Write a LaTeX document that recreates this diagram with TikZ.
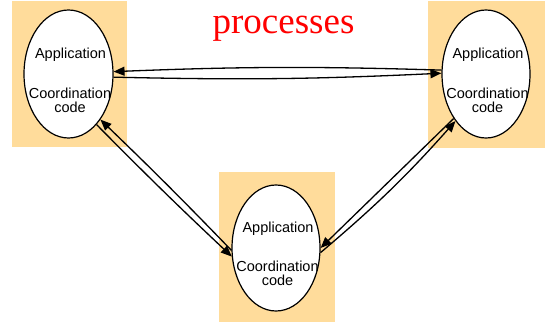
\documentclass[tikz,border=0pt]{standalone}
\usepackage{fontspec}
\setmainfont{Liberation Serif}
\setsansfont{Liberation Sans}
\usetikzlibrary{arrows.meta,shapes.geometric}
\definecolor{procbg}{RGB}{255,220,155}
\tikzset{
  procbox/.style={fill=procbg, draw=none, inner sep=0pt},
  proc/.style={ellipse, draw=black, fill=white, line width=1.2pt, inner sep=0pt},
  lbl/.style={font=\sffamily\fontsize{14.5}{14}\selectfont, inner sep=0pt, align=center},
  msg/.style={line width=1.3pt, -{Triangle[length=11pt,width=9pt]}},
}
\begin{document}
\begin{tikzpicture}[x=1pt,y=-1pt]
  \useasboundingbox (0,0) rectangle (548,324);

  % shaded frames behind the three processes
  \node[procbox, minimum width=115, minimum height=146] (fL) at (69.5,74) {};
  \node[procbox, minimum width=117, minimum height=147] (fR) at (486.5,74.5) {};
  \node[procbox, minimum width=116, minimum height=150] (fB) at (277,247) {};

  % the processes
  \node[proc, minimum width=89, minimum height=128] (L) at (68.5,74) {};
  \node[proc, minimum width=88, minimum height=128] (R) at (486,74) {};
  \node[proc, minimum width=88, minimum height=126] (B) at (276,248) {};

  \node[lbl] (La) at (70.5,55) {Application};
  \node[lbl] (Lc) at (70,100) {Coordination\\code};
  \node[lbl] (Ra) at (488,55) {Application};
  \node[lbl] (Rc) at (487.5,100) {Coordination\\code};
  \node[lbl] (Ba) at (278,229) {Application};
  \node[lbl] (Bc) at (277.5,273) {Coordination\\code};

  % title
  \node[text=red, font=\fontsize{37}{40}\selectfont, anchor=base, inner sep=0pt] (title) at (283.5,33) {processes};

  % message channels between processes
  \draw[msg] (R.175) to[bend right=2] (L.3);
  \draw[msg] (L.-4) to[bend right=2] (R.179);

  \draw[msg] (B.-177.5) to[bend right=1] (L.-55.6);
  \draw[msg] (L.-61) to[bend right=1] (B.-169);

  \draw[msg] (R.234.3) -- (B.0);
  \draw[msg] (B.-6) to[bend right=4] (R.237.1);
\end{tikzpicture}
\end{document}
